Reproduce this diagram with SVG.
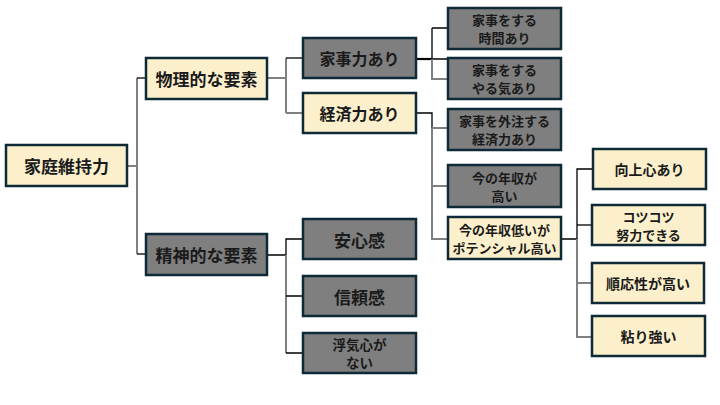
<svg xmlns="http://www.w3.org/2000/svg" width="720" height="405" viewBox="0 0 720 405">
<style>
.c{fill:#fcf0cc;stroke:#0d2a36;stroke-width:2.5}
.g{fill:#7f7f7f;stroke:#0d2a36;stroke-width:2.5}
text{font-family:"Noto Sans CJK JP","Noto Sans CJK SC",sans-serif;font-weight:bold;fill:#1a1a1a;text-anchor:middle;dominant-baseline:central}
.k{stroke:#000;stroke-width:1.3;fill:none}
.m{stroke:#808080;stroke-width:2;fill:none}
</style>
<rect width="720" height="405" fill="#fff"/>
<g id="connectors">
<path class="m" d="M127 166H137M137 78V254"/>
<path class="k" d="M137 78H146"/>
<path class="k" d="M137 254H146"/>
<path class="m" d="M267 78H286M286 58V113"/>
<path class="k" d="M286 58H303"/>
<path class="m" d="M286 113H303"/>
<path class="k" d="M417 59H432" style="stroke-width:2.2"/>
<path class="k" d="M432 28V59H448M432 28H448"/>
<path class="m" d="M432 59V79H448"/>
<path class="k" d="M417 113H432V128"/>
<path class="m" d="M432 128V239H448M432 128H448M432 186H448"/>
<path class="k" d="M562 239H577V169H593"/>
<path class="k" d="M577 225H592"/>
<path class="m" d="M577 239V337H592M577 283H592"/>
<path class="k" d="M267 255H286V239H303"/>
<path class="m" d="M286 255V353"/>
<path class="k" d="M286 296H303M286 353H303"/>
</g>
<g id="n0"><rect class="c" x="6" y="145" width="121" height="41"/><text x="66.5" y="165.5" font-size="17">家庭維持力</text></g>
<g id="n1"><rect class="c" x="146" y="58" width="121" height="41"/><text x="206.5" y="78.5" font-size="17">物理的な要素</text></g>
<g id="n2"><rect class="g" x="146" y="234" width="121" height="41"/><text x="206.5" y="254.5" font-size="17">精神的な要素</text></g>
<g id="n3"><rect class="g" x="303" y="38" width="113" height="40"/><text x="359.5" y="58" font-size="16">家事力あり</text></g>
<g id="n4"><rect class="c" x="303" y="93" width="113" height="40"/><text x="359.5" y="113" font-size="16">経済力あり</text></g>
<g id="n5"><rect class="g" x="448" y="8" width="113" height="41"/><text x="504.5" y="19.5" font-size="13">家事をする</text><text x="504.5" y="37.5" font-size="13">時間あり</text></g>
<g id="n6"><rect class="g" x="448" y="58" width="113" height="41"/><text x="504.5" y="69.5" font-size="13">家事をする</text><text x="504.5" y="87.5" font-size="13">やる気あり</text></g>
<g id="n7"><rect class="g" x="448" y="109" width="113" height="41"/><text x="504.5" y="120.5" font-size="13">家事を外注する</text><text x="504.5" y="138.5" font-size="13">経済力あり</text></g>
<g id="n8"><rect class="g" x="448" y="165" width="113" height="42"/><text x="504.5" y="177" font-size="13">今の年収が</text><text x="504.5" y="195" font-size="13">高い</text></g>
<g id="n9"><rect class="c" x="448" y="217" width="113" height="42"/><text x="504.5" y="229" font-size="13">今の年収低いが</text><text x="504.5" y="247" font-size="13">ポテンシャル高い</text></g>
<g id="n10"><rect class="c" x="593" y="149" width="113" height="40"/><text x="649.5" y="169" font-size="14">向上心あり</text></g>
<g id="n11"><rect class="c" x="592" y="205" width="113" height="40"/><text x="648.5" y="216" font-size="13">コツコツ</text><text x="648.5" y="234" font-size="13">努力できる</text></g>
<g id="n12"><rect class="c" x="592" y="263" width="112" height="40"/><text x="648" y="283" font-size="14">順応性が高い</text></g>
<g id="n13"><rect class="c" x="592" y="316" width="113" height="40"/><text x="648.5" y="336" font-size="14">粘り強い</text></g>
<g id="n14"><rect class="g" x="303" y="219" width="113" height="40"/><text x="359.5" y="239" font-size="17">安心感</text></g>
<g id="n15"><rect class="g" x="303" y="276" width="113" height="40"/><text x="359.5" y="296" font-size="17">信頼感</text></g>
<g id="n16"><rect class="g" x="303" y="333" width="113" height="40"/><text x="359.5" y="343.5" font-size="13.5">浮気心が</text><text x="359.5" y="362" font-size="13.5">ない</text></g>
</svg>
